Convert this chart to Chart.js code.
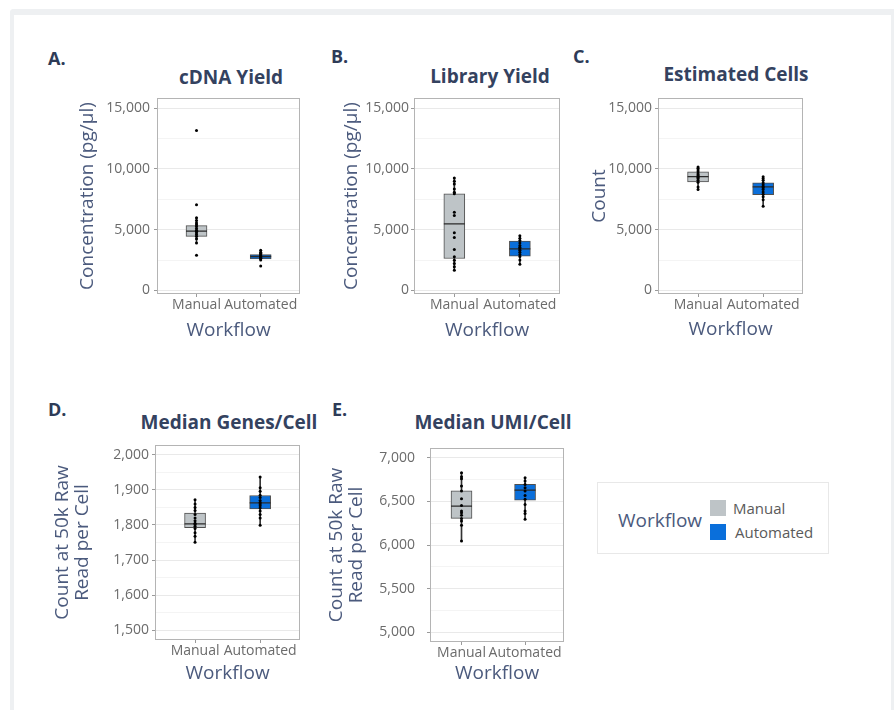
<!DOCTYPE html>
<html>
<head>
<meta charset="utf-8">
<script src="https://cdn.jsdelivr.net/npm/chart.js@4.4.1/dist/chart.umd.min.js"></script>
<style>
  html, body { margin: 0; padding: 0; background: #ffffff; width: 894px; height: 710px; overflow: hidden; font-family: "Open Sans", sans-serif; }
  #frame { position: absolute; left: 10px; top: 9px; width: 877px; height: 720px; border-top: 6px solid #eef0f2; border-left: 4px solid #eef0f2; border-right: 3px solid #eef0f2; border-top-left-radius: 4px; }
  canvas { position: absolute; }
  .letter { position: absolute; transform: translateY(-50%); font-weight: 700; font-size: 18px; color: #2e3b57; line-height: 1; }
  .title { position: absolute; transform: translate(-50%, -50%); font-weight: 700; font-size: 19px; color: #34425f; line-height: 1; white-space: nowrap; }
  #legend { position: absolute; left: 597px; top: 482px; width: 232px; height: 72px; border: 1px solid #e8e8e8; box-sizing: border-box; }
  .lg { position: absolute; line-height: 1; white-space: nowrap; transform: translateY(-50%); }
  .sw { position: absolute; width: 16px; height: 16px; }
</style>
</head>
<body>
<div id="frame"></div>

<div class="letter" style="left:48px;top:58px">A.</div>
<div class="letter" style="left:331px;top:56px">B.</div>
<div class="letter" style="left:573px;top:56px">C.</div>
<div class="letter" style="left:48px;top:409px">D.</div>
<div class="letter" style="left:332px;top:409px">E.</div>

<div class="title" style="left:231px;top:77px">cDNA Yield</div>
<div class="title" style="left:490px;top:76px">Library Yield</div>
<div class="title" style="left:736px;top:74px">Estimated Cells</div>
<div class="title" style="left:229px;top:422px">Median Genes/Cell</div>
<div class="title" style="left:493px;top:422px">Median UMI/Cell</div>

<canvas id="cdna" width="235" height="282" style="left:76px;top:60px"></canvas>
<canvas id="library" width="231" height="282" style="left:340px;top:60px"></canvas>
<canvas id="cells" width="226" height="281" style="left:588px;top:60px"></canvas>
<canvas id="genes" width="258" height="285" style="left:53px;top:400px"></canvas>
<canvas id="umi" width="248" height="285" style="left:327px;top:400px"></canvas>

<div id="legend">
  <div class="lg" style="left:20px;top:37px;font-size:19px;color:#4b5a7d">Workflow</div>
  <div class="sw" style="left:112px;top:17px;background:#bec4c7"></div>
  <div class="sw" style="left:112px;top:41px;background:#0a6fdb"></div>
  <div class="lg" style="left:135px;top:25px;font-size:15px;color:#5a5a5a">Manual</div>
  <div class="lg" style="left:137px;top:49px;font-size:15px;color:#5a5a5a">Automated</div>
</div>

<script>
// Workflow groups, left to right
const categories = ['Manual', 'Automated'];
const fillColors = ['#bec4c7', '#0a6fdb'];

// Box summaries are [lower whisker, Q1, median, Q3, upper whisker]

// A. cDNA yield, pg/µl
const cdnaManual = [13150, 7040, 5970, 5750, 5550, 5400, 5250, 5100, 4950, 4870, 4750, 4600, 4450, 4250, 3900, 2900];
const cdnaAutomated = [3300, 3150, 3050, 2950, 2880, 2800, 2750, 2700, 2650, 2600, 2500, 2000];
const cdnaManualBox = [3900, 4450, 4870, 5330, 5970];
const cdnaAutomatedBox = [2500, 2600, 2790, 2950, 3300];

// B. Library yield, pg/µl
const libraryManual = [9250, 8980, 8760, 8350, 8070, 7940, 6430, 6160, 4740, 4350, 3370, 2770, 2490, 2220, 1940, 1670];
const libraryAutomated = [4500, 4300, 4100, 3900, 3700, 3550, 3420, 3300, 3150, 2950, 2800, 2500, 2150];
const libraryManualBox = [1670, 2630, 5470, 7940, 9250];
const libraryAutomatedBox = [2150, 2820, 3420, 4050, 4500];

// C. Estimated cells, count
const cellsManual = [10150, 10050, 9900, 9750, 9600, 9500, 9400, 9300, 9200, 9050, 8900, 8500, 8300];
const cellsAutomated = [9350, 9200, 9050, 8850, 8700, 8550, 8450, 8300, 8100, 7900, 7700, 7450, 6920];
const cellsManualBox = [8300, 8925, 9360, 9745, 10150];
const cellsAutomatedBox = [6920, 7880, 8510, 8840, 9350];

// D. Median genes per cell at 50k raw reads per cell
const genesManual = [1872, 1860, 1850, 1841, 1830, 1820, 1812, 1805, 1801, 1796, 1790, 1778, 1768, 1751];
const genesAutomated = [1937, 1906, 1896, 1885, 1878, 1870, 1864, 1860, 1855, 1848, 1840, 1830, 1820, 1799];
const genesManualBox = [1751, 1792, 1803, 1834, 1872];
const genesAutomatedBox = [1799, 1846, 1863, 1884, 1937];

// E. Median UMI per cell at 50k raw reads per cell
const umiManual = [6828, 6782, 6760, 6675, 6618, 6530, 6454, 6389, 6370, 6340, 6305, 6275, 6225, 6045];
const umiAutomated = [6771, 6733, 6694, 6656, 6618, 6568, 6523, 6465, 6389, 6362, 6294];
const umiManualBox = [6045, 6305, 6446, 6620, 6828];
const umiAutomatedBox = [6294, 6513, 6628, 6694, 6771];

// Axis tick values
const concTicks = [0, 5000, 10000, 15000];
const concMinorTicks = [2500, 7500, 12500];
const countTicks = [0, 5000, 10000, 15000];
const countMinorTicks = [2500, 7500, 12500];
const genesTicks = [1500, 1600, 1700, 1800, 1900, 2000];
const genesMinorTicks = [1550, 1650, 1750, 1850, 1950];
const umiTicks = [5000, 5500, 6000, 6500, 7000];
const umiMinorTicks = [5250, 5750, 6250, 6750];

Chart.defaults.font.family = '"Open Sans", sans-serif';

const TICK_COLOR = '#6b6b6b';
const AXIS_TITLE_COLOR = '#4b5a7d';

// Draws the grey panel outline around the plotting area
const panelFrame = {
  id: 'panelFrame',
  afterDatasetsDraw(chart) {
    const { ctx, chartArea: { left, top, right, bottom } } = chart;
    ctx.save();
    ctx.strokeStyle = '#b4b4b4';
    ctx.lineWidth = 1;
    const l = Math.round(left) - 0.5, t = Math.round(top) - 0.5;
    ctx.strokeRect(l, t, Math.round(right) - Math.round(left) + 1, Math.round(bottom) - Math.round(top) + 1);
    ctx.restore();
  }
};

function boxDatasets(boxes, points) {
  return [
    { // individual samples
      type: 'scatter',
      data: points.flatMap((vals, i) => vals.map(v => ({ x: i + 1, y: v }))),
      pointRadius: 1.5, pointBackgroundColor: '#000000', pointBorderWidth: 0,
      order: 0
    },
    { // medians
      type: 'scatter',
      data: boxes.map((b, i) => ({ x: i + 1, y: b[2] })),
      pointStyle: 'line', pointRadius: 10.5,
      pointBorderColor: '#2a2a2a', pointBorderWidth: 1.3,
      order: 1
    },
    { // interquartile boxes
      type: 'bar',
      data: boxes.map((b, i) => ({ x: i + 1, y: [b[1], b[3]] })),
      backgroundColor: fillColors, borderColor: '#4f4f4f', borderWidth: 1,
      borderSkipped: false, barThickness: 21, grouped: false,
      order: 2
    },
    { // whiskers
      type: 'bar',
      data: boxes.map((b, i) => ({ x: i + 1, y: [b[0], b[4]] })),
      backgroundColor: '#333333', borderWidth: 0, barThickness: 1, grouped: false,
      order: 3
    }
  ];
}

function makePanel(p) {
  const major = p.major, minor = p.minor;
  const allTicks = major.concat(minor).sort((a, b) => a - b);
  const multiLine = Array.isArray(p.yTitle);
  return new Chart(document.getElementById(p.id), {
    type: 'bar',
    data: { datasets: boxDatasets(p.boxes, p.points) },
    plugins: [panelFrame],
    options: {
      responsive: false,
      animation: false,
      devicePixelRatio: 1,
      layout: { padding: { left: 0, top: p.padTop, right: 4, bottom: 0 } },
      plugins: { legend: { display: false }, tooltip: { enabled: false }, title: { display: false } },
      scales: {
        x: {
          type: 'linear', min: p.xMin, max: p.xMax, offset: false,
          afterBuildTicks: s => { s.ticks = categories.map((c, i) => ({ value: i + 1 })); },
          afterFit: s => { s.height = p.xHeight; },
          ticks: {
            autoSkip: false, maxRotation: 0, padding: 0,
            color: TICK_COLOR, font: { size: 14 },
            callback: v => categories[v - 1] || ''
          },
          grid: { offset: false, drawOnChartArea: false, drawTicks: true, tickLength: 4, tickColor: '#9a9a9a' },
          border: { display: false },
          title: { display: true, text: 'Workflow', color: AXIS_TITLE_COLOR, font: { size: 19, lineHeight: 1.2 }, padding: 0 }
        },
        y: {
          type: 'linear', min: p.yMin, max: p.yMax, beginAtZero: false,
          afterBuildTicks: s => { s.ticks = allTicks.map(v => ({ value: v })); },
          afterFit: s => { s.width = p.yWidth; },
          ticks: {
            autoSkip: false, padding: p.tickPad,
            color: TICK_COLOR, font: { size: 14 },
            callback: v => major.includes(v) ? v.toLocaleString('en-US') : ''
          },
          grid: {
            drawTicks: true, tickLength: 4, lineWidth: 1,
            color: ctx => (ctx.tick && major.includes(ctx.tick.value)) ? '#e9e9e9' : '#f4f4f4',
            tickColor: ctx => (ctx.tick && major.includes(ctx.tick.value)) ? '#9a9a9a' : 'rgba(0,0,0,0)'
          },
          border: { display: false },
          title: {
            display: true, text: p.yTitle, color: AXIS_TITLE_COLOR,
            font: { size: 19, lineHeight: multiLine ? 1.05 : 1.2 }, padding: 0
          }
        }
      }
    }
  });
}

const panels = [
  { id: 'cdna', padTop: 39, yWidth: 82, xHeight: 49, tickPad: 4, xMin: 0.4, xMax: 2.6, yMin: -210, yMax: 15740,
    major: concTicks, minor: concMinorTicks, yTitle: 'Concentration (pg/µl)',
    boxes: [cdnaManualBox, cdnaAutomatedBox], points: [cdnaManual, cdnaAutomated] },
  { id: 'library', padTop: 39, yWidth: 75, xHeight: 49, tickPad: 2, xMin: 0.4, xMax: 2.6, yMin: -210, yMax: 15740,
    major: concTicks, minor: concMinorTicks, yTitle: 'Concentration (pg/µl)',
    boxes: [libraryManualBox, libraryAutomatedBox], points: [libraryManual, libraryAutomated] },
  { id: 'cells', padTop: 39, yWidth: 71, xHeight: 48, tickPad: 3, xMin: 0.4, xMax: 2.6, yMin: -210, yMax: 15740,
    major: countTicks, minor: countMinorTicks, yTitle: 'Count',
    boxes: [cellsManualBox, cellsAutomatedBox], points: [cellsManual, cellsAutomated] },
  { id: 'genes', padTop: 46, yWidth: 103, xHeight: 46, tickPad: 3, xMin: 0.4, xMax: 2.6, yMin: 1475, yMax: 2025,
    major: genesTicks, minor: genesMinorTicks, yTitle: ['Count at 50k Raw', 'Read per Cell'],
    boxes: [genesManualBox, genesAutomatedBox], points: [genesManual, genesAutomated] },
  { id: 'umi', padTop: 49, yWidth: 104, xHeight: 44, tickPad: 12, xMin: 0.52, xMax: 2.6, yMin: 4900, yMax: 7100,
    major: umiTicks, minor: umiMinorTicks, yTitle: ['Count at 50k Raw', 'Read per Cell'],
    boxes: [umiManualBox, umiAutomatedBox], points: [umiManual, umiAutomated] }
];

panels.forEach(makePanel);
</script>
</body>
</html>
